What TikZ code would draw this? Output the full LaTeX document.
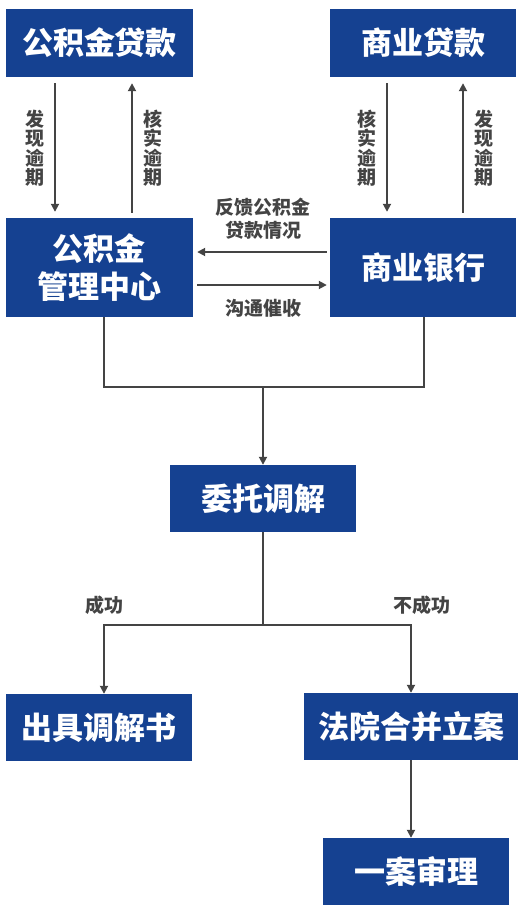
\documentclass[tikz,border=0pt]{standalone}
\usepackage{fontspec}
\setmainfont{Noto Sans CJK SC}
\usetikzlibrary{arrows.meta}
\definecolor{boxblue}{RGB}{21,65,145}
\definecolor{linegray}{RGB}{68,68,68}
\begin{document}
\begin{tikzpicture}[x=1pt, y=-1pt,
	box/.style={fill=boxblue, text=white, font=\fontsize{31}{38}\selectfont\bfseries, align=center, inner sep=0pt},
	lbl/.style={text=linegray, font=\fontsize{19}{19.5}\selectfont\bfseries, align=center, inner sep=0pt},
	arr/.style={draw=linegray, line width=1.8pt, -{Triangle[length=8pt,width=8pt]}},
	ln/.style={draw=linegray, line width=1.8pt}]
	\useasboundingbox (0, 0) rectangle (531, 916);
	\node[box, minimum width=187, minimum height=68] (gjdk) at (99.5, 43) {公积金贷款};
	\node[box, minimum width=186, minimum height=68] (sydk) at (423, 43) {商业贷款};
	\node[box, minimum width=187, minimum height=99] (gjzx) at (99.5, 267.5) {公积金\\管理中心};
	\node[box, minimum width=186, minimum height=99] (syyh) at (423, 267.5) {商业银行};
	\node[box, minimum width=186, minimum height=67] (wttj) at (263, 498.5) {委托调解};
	\node[box, minimum width=186, minimum height=67] (cjtjs) at (99, 727.5) {出具调解书};
	\node[box, minimum width=214, minimum height=67] (fyhb) at (411, 726.5) {法院合并立案};
	\node[box, minimum width=186, minimum height=67] (yasl) at (416, 871.5) {一案审理};

	\draw[arr, shorten <=6pt, shorten >=6pt] ([xshift=-44.5]gjdk.south) -- ([xshift=-44.5]gjzx.north);
	\draw[arr, shorten <=5pt, shorten >=6pt] ([xshift=32.5]gjzx.north) -- ([xshift=32.5]gjdk.south);
	\draw[arr, shorten <=6pt, shorten >=6pt] ([xshift=-36]sydk.south) -- ([xshift=-36]syyh.north);
	\draw[arr, shorten <=5pt, shorten >=6pt] ([xshift=40]syyh.north) -- ([xshift=40]sydk.south);
	\node[lbl] (fx1) at (35, 148) {发\\现\\逾\\期};
	\node[lbl] (hs1) at (153, 148) {核\\实\\逾\\期};
	\node[lbl] (hs2) at (367, 148) {核\\实\\逾\\期};
	\node[lbl] (fx2) at (484, 148) {发\\现\\逾\\期};

	\draw[arr, shorten <=3pt, shorten >=4pt] ([yshift=15.5]syyh.west) -- ([yshift=15.5]gjzx.east);
	\draw[arr, shorten <=4pt, shorten >=3pt] ([yshift=-17.5]gjzx.east) -- ([yshift=-17.5]syyh.west);
	\node[lbl, font=\fontsize{19}{23}\selectfont\bfseries] (fk) at (263, 219) {反馈公积金\\贷款情况};
	\node[lbl] (gt) at (263, 308) {沟通催收};

	\coordinate (hb) at (263, 387);
	\draw[ln] ([xshift=4.5]gjzx.south) |- (hb) -| ([xshift=1]syyh.south);
	\draw[arr] (hb) -- (wttj.north);

	\coordinate (fz) at (263, 625);
	\draw[ln] (wttj.south) -- (fz);
	\draw[arr] (fz) -| ([xshift=5]cjtjs.north);
	\draw[arr] (fz) -| (fyhb.north);
	\node[lbl] (cg) at (104, 605) {成功};
	\node[lbl] (bcg) at (422, 605) {不成功};

	\draw[arr] (fyhb.south) -- (fyhb.south |- yasl.north);
\end{tikzpicture}
\end{document}
